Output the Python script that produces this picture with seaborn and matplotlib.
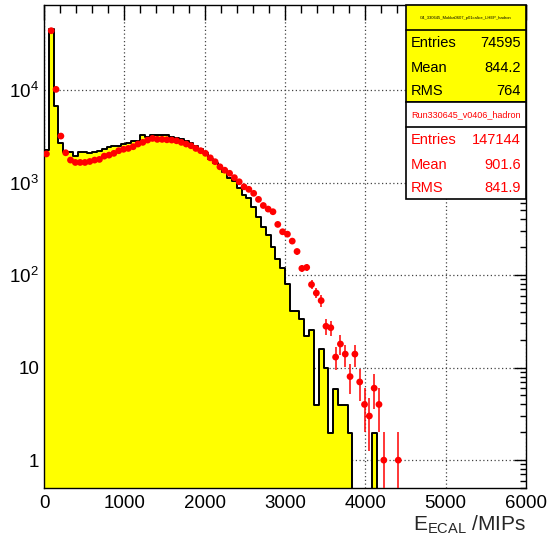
import numpy as np
import pandas as pd
import seaborn as sns
import matplotlib.pyplot as plt
from matplotlib.patches import Rectangle
from matplotlib.ticker import FixedLocator, FixedFormatter, MultipleLocator, LogLocator, NullFormatter

# 100 bins of 60 MIPs between 0 and 6000
bin_width = 60
n_bins = 100

# simulation (scaled to data)
mc_counts = [2240, 45300, 6720, 2650, 2120, 2120, 1930, 2120, 2120, 2070,
             2140, 2210, 2290, 2400, 2480, 2480, 2590, 2650, 2830, 2830,
             3260, 3130, 3260, 3260, 3260, 3300, 3130, 3050, 2930, 2810,
             2650, 2480, 2290, 2070, 1820, 1640, 1460, 1310, 1110, 1050,
             865, 733, 675, 548, 420, 330, 270, 200, 150, 118,
             81, 41.4, 41.4, 33.5, 21.7, 25.6, 3.94, 15.8, 9.85, 1.97,
             5.9, 3.94, 3.94, 1.97, 0, 0, 0, 0, 1.97]

# data run, red points
data_counts = [2040, 43800, 10170, 3180, 2100, 1750, 1650, 1650, 1650, 1690,
               1750, 1780, 1930, 1980, 2070, 2210, 2290, 2340, 2440, 2610,
               2720, 2880, 3000, 2930, 2930, 2900, 2880, 2830, 2720, 2610,
               2500, 2340, 2210, 2070, 1850, 1680, 1480, 1360, 1260, 1130,
               1020, 900, 845, 765, 658, 565, 517, 484, 353, 294,
               277, 233, 180, 118, 121, 79, 64, 53, 28, 27,
               13, 18, 14, 8, 14, 7, 4, 3, 6, 4,
               1, 0, 0, 1]

mc_title = "G4_330645_Mokka0607_p01calice_LHEP_hadron"
mc_stats = [("Entries", "74595"), ("Mean", "844.2"), ("RMS", "764")]
data_title = "Run330645_v0406_hadron"
data_stats = [("Entries", "147144"), ("Mean", "901.6"), ("RMS", "841.9")]

edges = np.arange(n_bins + 1) * bin_width
centers = edges[:-1] + bin_width / 2
mc = np.zeros(n_bins)
mc[:len(mc_counts)] = mc_counts
dat = np.zeros(n_bins)
dat[:len(data_counts)] = data_counts

df_mc = pd.DataFrame({"energy": centers, "count": mc})
df_data = pd.DataFrame({"energy": centers, "count": dat})
df_data = df_data[df_data["count"] > 0]

sns.set_style("white")
plt.rcParams["font.family"] = ["Liberation Sans", "DejaVu Sans"]
plt.rcParams["mathtext.fontset"] = "custom"
plt.rcParams["mathtext.rm"] = "Liberation Sans"
plt.rcParams["mathtext.it"] = "Liberation Sans"

fig = plt.figure(figsize=(5.5, 5.4), dpi=100)
ax = fig.add_axes([44 / 550, 52 / 540, 482 / 550, 483 / 540])
ax.set_yscale("log")

sns.histplot(data=df_mc, x="energy", weights="count", binwidth=bin_width,
             binrange=(0, n_bins * bin_width), element="step", fill=True,
             color="#ffff00", alpha=1, edgecolor="black", linewidth=1.4, ax=ax)

ax.errorbar(df_data["energy"], df_data["count"], yerr=np.sqrt(df_data["count"]),
            fmt="none", ecolor="red", elinewidth=1.1, zorder=3)
sns.scatterplot(data=df_data, x="energy", y="count", color="red", s=24,
                marker="o", edgecolor="none", zorder=4, ax=ax)

ax.set_xlim(0, 6000)
ax.set_ylim(0.5, 83000)
ax.set_xlabel("")
ax.set_ylabel("")

ax.xaxis.set_major_locator(MultipleLocator(1000))
ax.xaxis.set_minor_locator(MultipleLocator(200))
ax.yaxis.set_major_locator(FixedLocator([1, 10, 100, 1000, 10000]))
ax.yaxis.set_major_formatter(FixedFormatter(["1", "10", "$10^{2}$", "$10^{3}$", "$10^{4}$"]))
ax.yaxis.set_minor_locator(LogLocator(base=10, subs=np.arange(2, 10)))
ax.yaxis.set_minor_formatter(NullFormatter())

ax.tick_params(axis="both", which="both", direction="in", top=True, right=True,
               labelsize=13.5, colors="black")
ax.tick_params(axis="x", which="major", length=11, width=1)
ax.tick_params(axis="x", which="minor", length=6, width=1)
ax.tick_params(axis="y", which="major", length=9, width=1)
ax.tick_params(axis="y", which="minor", length=4.5, width=1)
ax.tick_params(axis="x", pad=5)

ax.grid(True, which="major", linestyle=(0, (1, 2)), color="#444444", linewidth=0.9)
ax.set_axisbelow(True)
for s in ax.spines.values():
    s.set_color("black")
    s.set_linewidth(1.0)

# axis title sits under the right end of the x axis
fig.text(526 / 550, 1 - 531 / 540, r"E$_{\mathrm{ECAL}}$ /MIPs",
         ha="right", va="baseline", fontsize=15)

# stats boxes in the top right corner
def px(x, y):
    return x / 550, 1 - y / 540

bx0, bx1 = 406, 526
def stat_box(top, bottom, sep, face, color, title, title_size, rows):
    x0, y0 = px(bx0, bottom)
    w = (bx1 - bx0) / 550
    h = (bottom - top) / 540
    fig.patches.append(Rectangle((x0, y0), w, h, transform=fig.transFigure,
                                 facecolor=face, edgecolor="black", linewidth=1.2, zorder=10))
    fig.lines.append(plt.Line2D([bx0 / 550, bx1 / 550], [1 - sep / 540, 1 - sep / 540],
                                transform=fig.transFigure, color="black", linewidth=1.2, zorder=11))
    tx, ty = px((bx0 + bx1) / 2, (top + sep) / 2)
    fig.text(tx, ty, title, ha="center", va="center", fontsize=title_size, color=color, zorder=12)
    row_y = [sep + 13, sep + 38, sep + 61]
    for (name, val), yy in zip(rows, row_y):
        fig.text(*px(bx0 + 5, yy), name, ha="left", va="center", fontsize=10.5, color=color, zorder=12)
        fig.text(*px(bx1 - 5, yy), val, ha="right", va="center", fontsize=10.5, color=color, zorder=12)

stat_box(5, 102, 30, "#ffff00", "black", mc_title, 3, mc_stats)
stat_box(102, 199, 127, "white", "red", data_title, 6.5, data_stats)

fig.savefig("out.png", dpi=100)
